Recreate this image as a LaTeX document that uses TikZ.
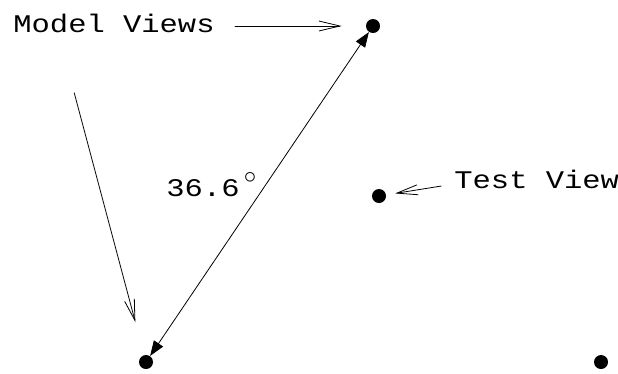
\documentclass[tikz,border=0pt]{standalone}
\usepackage{fontspec}
\setmonofont{Liberation Mono}[FakeStretch=1.2]
\usetikzlibrary{arrows.meta}
\tikzset{
  dot/.style={circle, fill, inner sep=0pt, minimum size=14pt},
  lbl/.style={font=\fontsize{25.4}{30}\selectfont\ttfamily, inner sep=0pt, anchor=base west},
  barb/.style={-{Straight Barb[length=21pt,width=10pt]}},
  both/.style={{Triangle[length=15pt,width=11pt]}-{Triangle[length=15pt,width=11pt]}}
}
\begin{document}
\begin{tikzpicture}[x=1pt, y=-1pt, line width=0.8pt, line join=round, line cap=round]
  \useasboundingbox (0,0) rectangle (618,373);
  % views
  \node[dot] (mv1) at (373,26) {};
  \node[dot] (mv2) at (146,362) {};
  \node[dot] (mv3) at (601,362) {};
  \node[dot] (tst) at (379,196) {};
  % labels
  \node[lbl] (mv) at (13,32) {Model Views};
  \node[lbl] (tv) at (454,188) {Test View};
  \node[lbl] (ang) at (166,196) {36.6\,\raisebox{13pt}{$\circ$}};
  % arrows
  \draw[barb, shorten <=20pt, shorten >=24pt] (mv.east |- mv1) -- (mv1);
  \draw[barb, shorten <=63pt, shorten >=34pt] ([xshift=45pt]mv.base west) -- (mv2);
  \draw[barb, shorten <=13pt, shorten >=9pt] ([yshift=4pt]tv.base west) -- (tst);
  \draw[both] (mv2) -- (mv1);
\end{tikzpicture}
\end{document}
